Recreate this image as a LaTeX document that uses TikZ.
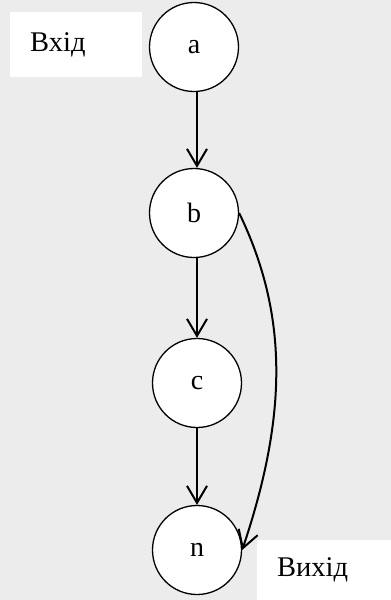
\documentclass[tikz,border=0pt]{standalone}
\usepackage{fontspec}
\setmainfont{Liberation Serif}
\usetikzlibrary{arrows.meta}
\begin{document}
\begin{tikzpicture}[x=1pt,y=-1pt,
  vertex/.style={circle,draw=black,line width=1.3pt,fill=white,minimum size=89pt,inner sep=0pt,
    font=\fontsize{28}{32}\selectfont},
  tagbox/.style={fill=white,draw=none,inner sep=0pt},
  tagtext/.style={inner sep=0pt,anchor=base west,font=\fontsize{28.5}{32}\selectfont},
  flow/.style={line width=2pt,-{Straight Barb[length=17pt,width=20pt,line width=2pt]}}]
  % page background
  \fill[fill={rgb,255:red,236;green,236;blue,236}] (0,0) rectangle (391,600);
  \useasboundingbox (0,0) rectangle (391,600);

  % label boxes
  \node[tagbox,minimum width=132pt,minimum height=65pt] (inbox) at (76,44.5) {};
  \node[tagtext] (inlbl) at (30,51) {Вхід};
  \node[tagbox,minimum width=134pt,minimum height=60pt] (outbox) at (324,570) {};
  \node[tagtext] (outlbl) at (277,576) {Вихід};

  % vertices
  \node[vertex] (a) at (194,47) {a};
  \node[vertex] (b) at (194,213) {b};
  \node[vertex] (c) at (197,383) {c};
  \node[vertex] (n) at (197,550) {n};

  % edges
  \draw[flow] (a.south -| c.center) -- (b.north -| c.center);
  \draw[flow] (b.south -| c.center) -- (c.north);
  \draw[flow] (c.south) -- (n.north);
  \draw[flow] (b.east) .. controls (288,314) and (288,414) .. (n.east);
\end{tikzpicture}
\end{document}
